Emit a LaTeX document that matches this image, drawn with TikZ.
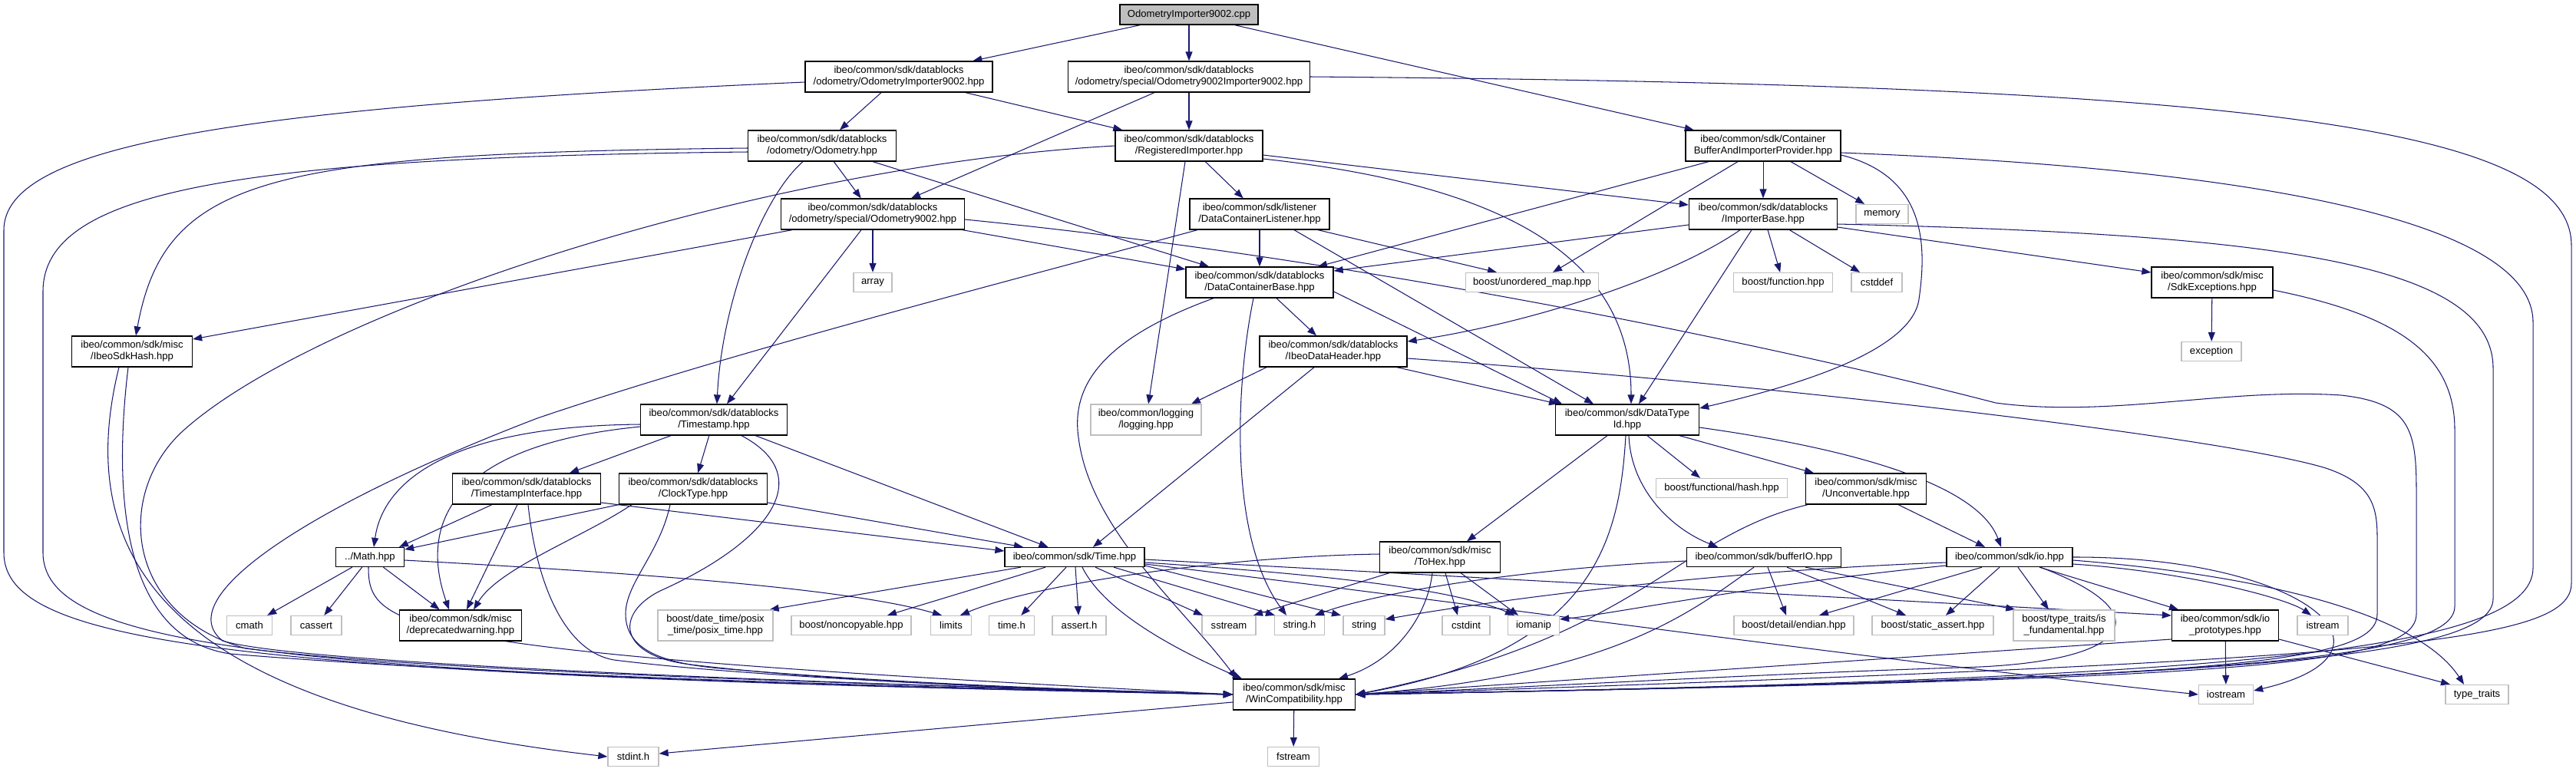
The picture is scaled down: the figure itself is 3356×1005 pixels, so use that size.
\documentclass[tikz,border=0pt]{standalone}
\usepackage{fontspec}
\setmainfont{Liberation Sans}
\usetikzlibrary{arrows.meta}
\definecolor{edgec}{HTML}{191970}
\definecolor{grayb}{HTML}{BFBFBF}
\pgfdeclarelayer{bg}
\pgfdeclarelayer{paper}
\pgfsetlayers{paper,bg,main}
\tikzset{
  base/.style={rectangle, inner sep=0pt, align=center, font=\fontsize{13.1pt}{15pt}\selectfont, fill=white, line width=1.3pt},
  nb/.style={base, draw=black},
  ng/.style={base, draw=grayb},
  nstart/.style={base, draw=black, fill=grayb},
  bw/.style={minimum width=#1pt},
  lineone/.style={minimum height=25pt},
  linetwo/.style={minimum height=40pt},
  conn/.style={draw=edgec, line width=1.05pt, -{Triangle[length=12pt,width=9pt]}},
}
\begin{document}
\begin{tikzpicture}[x=1pt,y=-1pt]
\begin{pgfonlayer}{paper}
\fill[white] (0,0) rectangle (3356,1005);
\end{pgfonlayer}
\useasboundingbox (0,0) rectangle (3356,1005);
% nodes
\node[nstart,bw=180,minimum height=26pt] (cpp) at (1549,19) {OdometryImporter9002.cpp};
\node[nb,bw=244,linetwo] (oi) at (1171,100) {ibeo/common/sdk/datablocks\\/odometry/OdometryImporter9002.hpp};
\node[nb,bw=315,linetwo] (o9i) at (1549,100) {ibeo/common/sdk/datablocks\\/odometry/special/Odometry9002Importer9002.hpp};
\node[nb,bw=193,linetwo] (od) at (1071,190) {ibeo/common/sdk/datablocks\\/odometry/Odometry.hpp};
\node[nb,bw=192,linetwo] (ri) at (1549,190) {ibeo/common/sdk/datablocks\\/RegisteredImporter.hpp};
\node[nb,bw=202,linetwo] (cb) at (2297,190) {ibeo/common/sdk/Container\\BufferAndImporterProvider.hpp};
\node[nb,bw=239,linetwo] (o9) at (1137,279) {ibeo/common/sdk/datablocks\\/odometry/special/Odometry9002.hpp};
\node[nb,bw=182,linetwo] (dcl) at (1641,279) {ibeo/common/sdk/listener\\/DataContainerListener.hpp};
\node[nb,bw=193,linetwo] (ib) at (2297,279) {ibeo/common/sdk/datablocks\\/ImporterBase.hpp};
\node[ng,bw=68,lineone] (memory) at (2452,279) {memory};
\node[ng,bw=50,lineone] (array) at (1137,368) {array};
\node[nb,bw=157,linetwo] (hash) at (172,458) {ibeo/common/sdk/misc\\/IbeoSdkHash.hpp};
\node[nb,bw=192,linetwo] (dcb) at (1641,368) {ibeo/common/sdk/datablocks\\/DataContainerBase.hpp};
\node[ng,bw=173,lineone] (umap) at (1996,368) {boost/unordered\_map.hpp};
\node[ng,bw=129,lineone] (bfunc) at (2323,368) {boost/function.hpp};
\node[ng,bw=66,lineone] (cstddef) at (2445,368) {cstddef};
\node[nb,bw=158,linetwo] (sdkex) at (2882,368) {ibeo/common/sdk/misc\\/SdkExceptions.hpp};
\node[ng,bw=78,lineone] (exception) at (2881,458) {exception};
\node[nb,bw=192,linetwo] (idh) at (1737,458) {ibeo/common/sdk/datablocks\\/IbeoDataHeader.hpp};
\node[nb,bw=191,linetwo] (ts) at (930,547) {ibeo/common/sdk/datablocks\\/Timestamp.hpp};
\node[ng,bw=144,linetwo] (logging) at (1493,547) {ibeo/common/logging\\/logging.hpp};
\node[nb,bw=187,linetwo] (dtid) at (2120,547) {ibeo/common/sdk/DataType\\Id.hpp};
\node[nb,bw=193,linetwo] (tsi) at (686,637) {ibeo/common/sdk/datablocks\\/TimestampInterface.hpp};
\node[nb,bw=193,linetwo] (ct) at (903,637) {ibeo/common/sdk/datablocks\\/ClockType.hpp};
\node[ng,bw=171,lineone] (bfhash) at (2243,636) {boost/functional/hash.hpp};
\node[nb,bw=157,linetwo] (unconv) at (2431,637) {ibeo/common/sdk/misc\\/Unconvertable.hpp};
\node[nb,bw=89,lineone] (math) at (482,726) {../Math.hpp};
\node[nb,bw=182,lineone] (time) at (1400,726) {ibeo/common/sdk/Time.hpp};
\node[nb,bw=157,linetwo] (tohex) at (1876,726) {ibeo/common/sdk/misc\\/ToHex.hpp};
\node[nb,bw=201,lineone] (bufio) at (2298,726) {ibeo/common/sdk/bufferIO.hpp};
\node[nb,bw=164,lineone] (io) at (2618,726) {ibeo/common/sdk/io.hpp};
\node[ng,bw=59,lineone] (cmath) at (325,815) {cmath};
\node[ng,bw=66,lineone] (cassert) at (412,815) {cassert};
\node[nb,bw=159,linetwo] (depw) at (600,815) {ibeo/common/sdk/misc\\/deprecatedwarning.hpp};
\node[ng,bw=150,linetwo] (posix) at (932,815) {boost/date\_time/posix\\\_time/posix\_time.hpp};
\node[ng,bw=156,lineone] (noncopy) at (1109,815) {boost/noncopyable.hpp};
\node[ng,bw=53,lineone] (limits) at (1239,815) {limits};
\node[ng,bw=59,lineone] (timeh) at (1318,815) {time.h};
\node[ng,bw=70,lineone] (asserth) at (1406,815) {assert.h};
\node[ng,bw=70,lineone] (sstream) at (1601,815) {sstream};
\node[ng,bw=65,lineone] (stringh) at (1693,815) {string.h};
\node[ng,bw=54,lineone] (string) at (1777,815) {string};
\node[ng,bw=62,lineone] (cstdint) at (1910,815) {cstdint};
\node[ng,bw=67,lineone] (iomanip) at (1998,815) {iomanip};
\node[ng,bw=156,lineone] (endian) at (2337,815) {boost/detail/endian.hpp};
\node[ng,bw=158,lineone] (sassert) at (2518,815) {boost/static\_assert.hpp};
\node[ng,bw=132,linetwo] (isfund) at (2689,815) {boost/type\_traits/is\\\_fundamental.hpp};
\node[nb,bw=139,linetwo] (iop) at (2899,815) {ibeo/common/sdk/io\\\_prototypes.hpp};
\node[ng,bw=66,lineone] (istream) at (3026,815) {istream};
\node[nb,bw=159,linetwo] (wc) at (1686,905) {ibeo/common/sdk/misc\\/WinCompatibility.hpp};
\node[ng,bw=71,lineone] (iostream) at (2900,905) {iostream};
\node[ng,bw=82,lineone] (typetraits) at (3227,905) {type\_traits};
\node[ng,bw=66,lineone] (stdint) at (825,986) {stdint.h};
\node[ng,bw=67,lineone] (fstream) at (1685,986) {fstream};

\begin{pgfonlayer}{bg}
% cpp
\draw[conn] (cpp) -- (oi);
\draw[conn] (cpp) -- (o9i);
\draw[conn] (cpp) -- (cb);
% oi
\draw[conn] (oi) -- (od);
\draw[conn] (oi) -- (ri);
\draw[conn] ([yshift=-7pt]oi.west) .. controls (300,140) and (5,190) .. (5,300) -- (5,720) .. controls (5,840) and (300,880) .. (wc.west);
% od
\draw[conn] (od) -- (o9);
\draw[conn] ([xshift=-25pt]od.south) .. controls (990,260) and (940,400) .. ([xshift=4pt]ts.north);
\draw[conn] (od) -- (dcb);
\draw[conn] ([yshift=-3pt]od.west) .. controls (350,200) and (215,230) .. ([xshift=5pt]hash.north);
\draw[conn] ([yshift=-8pt]od.west) .. controls (300,205) and (56,250) .. (56,380) -- (56,720) .. controls (56,850) and (400,880) .. (wc.west);
% o9i
\draw[conn] (o9i) -- (ri);
\draw[conn] ([xshift=-45pt]o9i.south) -- ([xshift=50pt]o9.north);
\draw[conn] (o9i.east) .. controls (2900,110) and (3350,160) .. (3350,320) -- (3350,760) .. controls (3350,840) and (3100,860) .. (wc.east);
% cb
\draw[conn] (cb) -- (ib);
\draw[conn] (cb) -- (memory);
\draw[conn] ([xshift=-33pt]cb.south) -- ([xshift=27pt]umap.north);
\draw[conn] ([xshift=-71pt]cb.south) -- ([xshift=76pt]dcb.north);
\draw[conn] ([yshift=-12pt]cb.east) .. controls (2510,230) and (2510,320) .. (2500,390) .. controls (2490,460) and (2330,505) .. ([yshift=15pt]dtid.east);
\draw[conn] ([yshift=-9pt]cb.east) .. controls (2950,220) and (3300,290) .. (3300,420) -- (3300,740) .. controls (3300,850) and (2900,885) .. (wc.east);
% ri
\draw[conn] (ri) -- (dcl);
\draw[conn] ([xshift=-5pt]ri.south) -- (logging);
\draw[conn] ([yshift=-12pt]ri.east) -- ([yshift=12pt]ib.west);
\draw[conn] ([yshift=-17pt]ri.east) .. controls (1950,240) and (2125,330) .. ([xshift=5pt]dtid.north);
\draw[conn] (ri.west) .. controls (1000,215) and (420,400) .. (240,560) .. controls (150,640) and (160,800) .. (320,845) .. controls (600,880) and (1300,895) .. (wc.west);
% dcl
\draw[conn] (dcl) -- (dcb);
\draw[conn] ([xshift=76pt]dcl.south) -- ([xshift=-46pt]umap.north);
\draw[conn] ([xshift=45pt]dcl.south) -- ([xshift=-44pt]dtid.north);
\draw[conn] ([xshift=-81pt]dcl.south) .. controls (1300,370) and (950,460) .. (700,545) .. controls (400,660) and (220,780) .. (290,835) .. controls (400,870) and (1300,897) .. (wc.west);
% o9
\draw[conn] (o9) -- (array);
\draw[conn] (o9) -- (dcb);
\draw[conn] ([xshift=-105pt]o9.south) -- ([yshift=16pt]hash.east);
\draw[conn] ([xshift=-15pt]o9.south) -- ([xshift=17pt]ts.north);
\draw[conn] ([yshift=-7pt]o9.east) .. controls (1800,340) and (2350,460) .. (2600,525) .. controls (2750,545) and (2900,505) .. (3050,515) .. controls (3140,525) and (3148,560) .. (3148,640) -- (3148,800) .. controls (3148,870) and (2900,885) .. (wc.east);
% dcb
\draw[conn] (dcb) -- (idh);
\draw[conn] ([yshift=-12pt]dcb.east) -- ([xshift=-85pt]dtid.north);
\draw[conn] ([xshift=-60pt]dcb.south) .. controls (1440,440) and (1395,500) .. (1405,570) .. controls (1420,690) and (1540,790) .. ([xshift=-75pt]wc.north);
\draw[conn] ([xshift=-8pt]dcb.south) .. controls (1610,500) and (1600,700) .. ([xshift=-17pt]stringh.north);
% idh
\draw[conn] ([xshift=-87pt]idh.south) -- ([xshift=59pt]logging.north);
\draw[conn] ([xshift=-25pt]idh.south) -- ([xshift=24pt]time.north);
\draw[conn] ([xshift=83pt]idh.south) -- ([xshift=-90pt]dtid.north);
\draw[conn] ([yshift=-9pt]idh.east) .. controls (2300,500) and (2900,570) .. (3030,610) .. controls (3090,630) and (3097,660) .. (3097,700) -- (3097,800) .. controls (3097,865) and (2900,885) .. (wc.east);
% ib
\draw[conn] ([yshift=-14pt]ib.west) -- ([yshift=15pt]dcb.east);
\draw[conn] ([xshift=-30pt]ib.south) .. controls (2180,360) and (2000,420) .. ([yshift=13pt]idh.east);
\draw[conn] ([xshift=-15pt]ib.south) -- ([xshift=15pt]dtid.north);
\draw[conn] (ib) -- (bfunc);
\draw[conn] (ib) -- (cstddef);
\draw[conn] ([yshift=-17pt]ib.east) -- ([yshift=13pt]sdkex.west);
\draw[conn] ([yshift=-13pt]ib.east) .. controls (2950,305) and (3248,340) .. (3248,480) -- (3248,780) .. controls (3248,860) and (2900,885) .. (wc.east);
% sdkex
\draw[conn] (sdkex) -- (exception);
\draw[conn] ([yshift=-10pt]sdkex.east) .. controls (3120,410) and (3198,460) .. (3198,560) -- (3198,790) .. controls (3198,860) and (2900,885) .. (wc.east);
% ts
\draw[conn] (ts) -- (tsi);
\draw[conn] (ts) -- (ct);
\draw[conn] (ts) -- (time);
\draw[conn] ([yshift=-6pt]ts.west) .. controls (600,555) and (500,620) .. ([xshift=5pt]math.north);
\draw[conn] ([yshift=-9pt]ts.west) .. controls (590,580) and (545,680) .. ([xshift=-15pt]depw.north);
\draw[conn] ([xshift=36pt]ts.south) .. controls (1065,620) and (1005,705) .. (860,770) .. controls (800,800) and (805,855) .. (900,866) .. controls (1100,890) and (1400,900) .. (wc.west);
% tsi
\draw[conn] ([xshift=-45pt]tsi.south) -- ([xshift=38pt]math.north);
\draw[conn] ([xshift=-12pt]tsi.south) -- ([xshift=8pt]depw.north);
\draw[conn] ([xshift=2pt]tsi.south) .. controls (700,770) and (740,850) .. (800,860) .. controls (1000,885) and (1400,900) .. (wc.west);
\draw[conn] ([yshift=-18pt]tsi.east) -- ([yshift=8pt]time.west);
% ct
\draw[conn] ([xshift=-97pt]ct.south) -- ([yshift=10pt]math.east);
\draw[conn] ([xshift=-80pt]ct.south) .. controls (760,700) and (650,740) .. ([xshift=17pt]depw.north);
\draw[conn] ([yshift=-18pt]ct.east) -- ([xshift=-67pt]time.north);
\draw[conn] ([xshift=-30pt]ct.south) .. controls (860,720) and (815,760) .. (815,800) .. controls (815,850) and (870,866) .. (950,872) .. controls (1200,893) and (1450,900) .. (wc.west);
% math
\draw[conn] (math) -- (cmath);
\draw[conn] (math) -- (cassert);
\draw[conn] (math) -- (depw);
\draw[conn] ([xshift=-2pt]math.south) .. controls (480,820) and (520,850) .. (wc.west);
\draw[conn] ([yshift=-4pt]math.east) .. controls (800,745) and (1100,765) .. ([xshift=-12pt]limits.north);
% time
\draw[conn] ([xshift=-70pt]time.south) -- ([xshift=-5pt]posix.north east);
\draw[conn] ([xshift=-38pt]time.south) -- ([xshift=47pt]noncopy.north);
\draw[conn] ([xshift=-11pt]time.south) -- (timeh);
\draw[conn] ([xshift=1pt]time.south) -- (asserth);
\draw[conn] ([xshift=27pt]time.south) -- ([xshift=-34pt]sstream.north);
\draw[conn] ([xshift=51pt]time.south) -- ([xshift=-32pt]stringh.north);
\draw[conn] ([yshift=-11pt]time.east) -- ([xshift=-30pt]string.north);
\draw[conn] ([yshift=-7pt]time.east) .. controls (1750,750) and (1900,770) .. ([xshift=-25pt]iomanip.north);
\draw[conn] ([yshift=-3pt]time.east) -- ([yshift=13pt]iop.west);
\draw[conn] ([yshift=-9pt]time.east) .. controls (1950,790) and (2400,855) .. (iostream.west);
\draw[conn] ([xshift=10pt]time.south) .. controls (1440,800) and (1540,850) .. ([xshift=-68pt]wc.north);
% tohex
\draw[conn] ([yshift=4pt]tohex.west) .. controls (1600,725) and (1350,760) .. ([xshift=12pt]limits.north);
\draw[conn] ([xshift=-66pt]tohex.south) -- ([xshift=32pt]sstream.north);
\draw[conn] ([xshift=7pt]tohex.south) -- ([xshift=-11pt]cstdint.north);
\draw[conn] ([xshift=27pt]tohex.south) -- ([xshift=-20pt]iomanip.north);
\draw[conn] ([xshift=-10pt]tohex.south) .. controls (1860,800) and (1820,860) .. ([xshift=58pt]wc.north);
% dtid
\draw[conn] ([xshift=-26pt]dtid.south) -- ([xshift=35pt]tohex.north);
\draw[conn] ([xshift=-2pt]dtid.south) .. controls (2110,700) and (2080,850) .. (wc.east);
\draw[conn] ([xshift=2pt]dtid.south) .. controls (2125,640) and (2180,690) .. ([xshift=-60pt]bufio.north);
\draw[conn] ([xshift=26pt]dtid.south) -- ([xshift=-28pt]bfhash.north);
\draw[conn] ([xshift=68pt]dtid.south) -- ([xshift=-68pt]unconv.north);
\draw[conn] ([yshift=-10pt]dtid.east) .. controls (2450,590) and (2580,640) .. ([xshift=-11pt]io.north);
% unconv
\draw[conn] ([xshift=42pt]unconv.south) -- ([xshift=-32pt]io.north);
\draw[conn] ([xshift=-76pt]unconv.south) .. controls (2180,700) and (2140,830) .. (wc.east);
% bufio
\draw[conn] ([yshift=-5pt]bufio.west) .. controls (2000,740) and (1800,770) .. ([xshift=20pt]stringh.north);
\draw[conn] ([xshift=5pt]bufio.south) -- ([xshift=-10pt]endian.north);
\draw[conn] ([xshift=30pt]bufio.south) -- ([xshift=-35pt]sassert.north);
\draw[conn] ([xshift=54pt]bufio.south) -- ([xshift=3pt]isfund.north west);
\draw[conn] ([xshift=-13pt]bufio.south) .. controls (2200,800) and (2100,880) .. (wc.east);
% io
\draw[conn] ([yshift=-7pt]io.west) .. controls (2200,745) and (1900,790) .. ([yshift=8pt]string.east);
\draw[conn] ([yshift=-11pt]io.west) .. controls (2300,760) and (2100,800) .. ([yshift=8pt]iomanip.east);
\draw[conn] ([xshift=-36pt]io.south) -- ([xshift=33pt]endian.north);
\draw[conn] ([xshift=-13pt]io.south) -- ([xshift=17pt]sassert.north);
\draw[conn] ([xshift=11pt]io.south) -- ([xshift=-20pt]isfund.north);
\draw[conn] ([xshift=39pt]io.south) -- ([xshift=-61pt]iop.north);
\draw[conn] ([yshift=-9pt]io.east) .. controls (2850,745) and (2980,780) .. ([xshift=-15pt]istream.north);
\draw[conn] ([yshift=-4pt]io.east) .. controls (2950,750) and (3150,800) .. ([xshift=-17pt]typetraits.north);
\draw[conn] (io.east) .. controls (3000,725) and (3150,850) .. ([yshift=5pt]iostream.east);
\draw[conn] ([xshift=40pt]io.south) .. controls (2820,800) and (2780,865) .. (2550,870) .. controls (2300,878) and (2000,895) .. (wc.east);
% iop
\draw[conn] (iop) -- (iostream);
\draw[conn] ([yshift=-18pt]iop.east) -- ([xshift=-35pt]typetraits.north);
\draw[conn] ([yshift=-18pt]iop.west) -- (wc.east);
% hash
\draw[conn] ([xshift=-5pt]hash.south) .. controls (150,620) and (150,830) .. (300,852) .. controls (700,885) and (1300,897) .. (wc.west);
\draw[conn] ([xshift=-17pt]hash.south) .. controls (80,780) and (300,930) .. (stdint.west);
% wc
\draw[conn] (wc) -- (fstream);
\draw[conn] ([yshift=-10pt]wc.west) -- ([yshift=4pt]stdint.east);
\end{pgfonlayer}
\end{tikzpicture}
\end{document}
